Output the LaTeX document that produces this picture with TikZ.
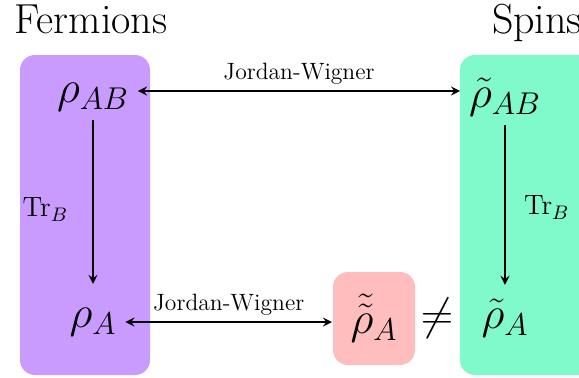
\RequirePackage{fix-cm}
\documentclass[tikz,border=0pt]{standalone}
\usepackage{amsmath}

\definecolor{fermipurple}{RGB}{201,155,255}
\definecolor{spingreen}{RGB}{128,250,203}
\definecolor{tracepink}{RGB}{255,189,189}

\tikzset{
  bigmath/.style={font=\fontsize{22.5}{26}\selectfont, inner sep=4pt},
  title/.style={font=\fontsize{21}{24}\selectfont, inner sep=0pt, anchor=base},
  jwlabel/.style={font=\fontsize{11.8}{14}\selectfont, inner sep=3pt},
  trlabel/.style={font=\fontsize{14}{17}\selectfont, inner sep=5pt},
  statebox/.style={rounded corners=7.5pt, inner sep=0pt},
}

\begin{document}
\begin{tikzpicture}[x=0.5pt, y=-0.5pt, >=stealth, line width=1pt]
    \useasboundingbox (0,0) rectangle (579,377);

    % Boxes
    \fill[fermipurple, statebox] (20,55) rectangle (150,375);
    \fill[spingreen, statebox] (460,55) rectangle (610,375);

    % Titles
    \node[title] (fermions) at (91,33) {Fermions};
    \node[title] (spins) at (537,33) {Spins};

    % Fermion side
    \node[bigmath] (rhoAB) at (93,97) {$\rho_{AB}$};
    \node[bigmath] (rhoA) at (93,322) {$\rho_{A}$};

    % Spin side
    \node[bigmath] (trhoAB) at (505,97) {$\tilde{\rho}_{AB}$};
    \node[bigmath] (trhoA) at (505,318) {$\tilde{\rho}_{A}$};

    % Mapped state
    \node[bigmath, statebox, fill=tracepink, minimum width=41pt, minimum height=46.5pt] (ttrhoA) at (374,318.5) {$\tilde{\tilde{\rho}}_{A}$};
    \node[bigmath] (neq) at (437,318) {$\neq$};

    % Jordan-Wigner maps
    \draw[<->] ([yshift=3pt]rhoAB.east) -- node[above, jwlabel] {Jordan-Wigner} ([yshift=3pt]trhoAB.west);
    \draw[<->] (rhoA.east) -- node[above, jwlabel] {Jordan-Wigner} (ttrhoA.west |- rhoA.east);

    % Partial traces
    \draw[->, shorten >=7.5pt] (rhoAB) -- node[left, trlabel, xshift=-7pt] {$\mathrm{Tr}_B$} (rhoA);
    \draw[->, shorten >=2.5pt] (trhoAB) -- node[right, trlabel, xshift=4pt] {$\mathrm{Tr}_B$} (trhoA);
\end{tikzpicture}
\end{document}
